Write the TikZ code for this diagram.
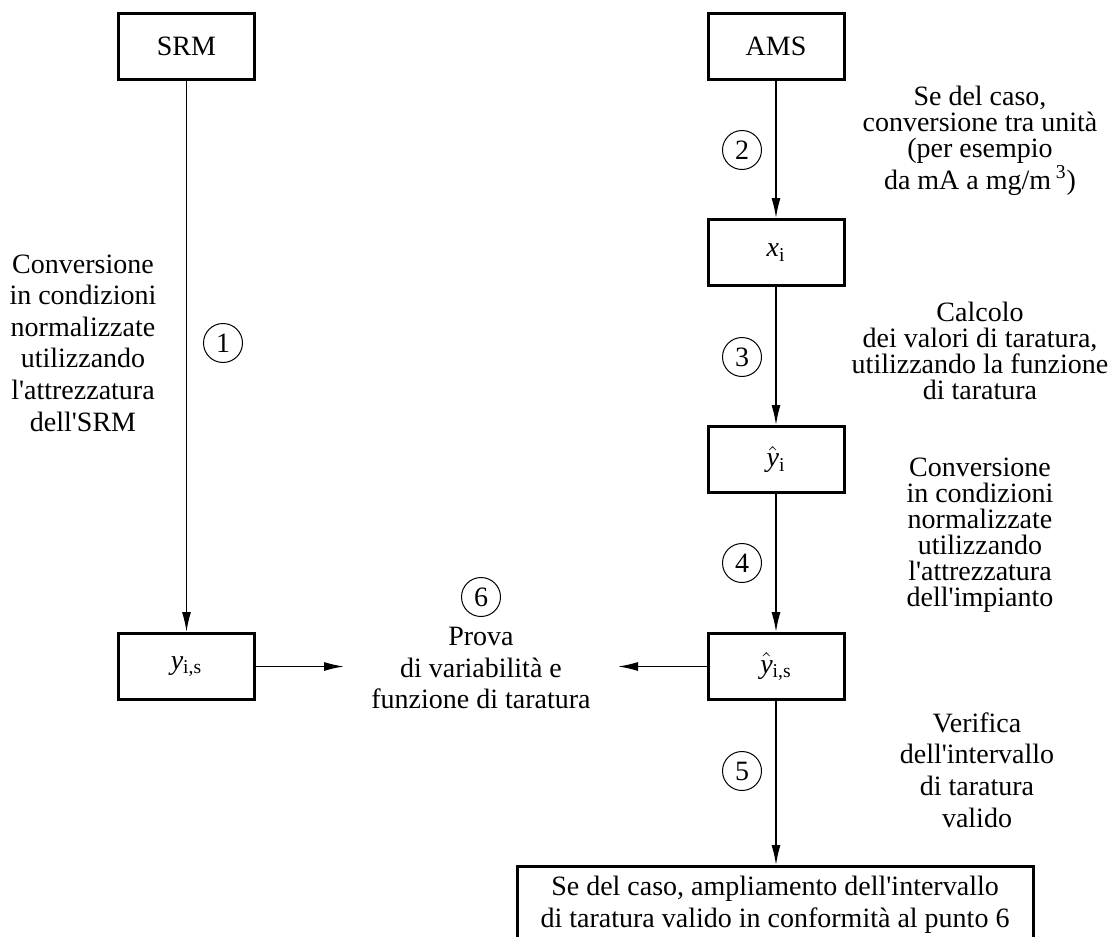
\documentclass[tikz,border=0pt]{standalone}
\usepackage{fontspec}
\setmainfont{Liberation Serif}
\usetikzlibrary{arrows.meta,positioning}
\newcommand{\apo}{\textquotesingle}

\begin{document}
\begin{tikzpicture}[x=0.5pt,y=-0.5pt,
    every node/.style={font=\fontsize{14}{15.8}\selectfont},
    box/.style={draw,line width=1.5pt,minimum width=68pt,minimum height=33pt,inner sep=0pt},
    num/.style={draw,circle,line width=0.5pt,minimum size=19.5pt,inner sep=0pt},
    note/.style={align=center,inner sep=0pt},
    tight/.style={note,font=\fontsize{14}{13}\selectfont},
    flow/.style={line width=0.7pt,-{Latex[length=10pt,width=4.5pt]}}]
  \useasboundingbox (0,0) rectangle (1109,937);
  \clip (0,0) rectangle (1109,937);

  \node[box] (srm) at (186.5,46) {SRM};
  \node[box] (ams) at (776,46) {AMS};
  \node[box] (xi) at (776,252.5) {\textit{x}\textsubscript{i}};
  \node[box] (yi) at (776,459.5) {$\hat{\textit{y}}$\textsubscript{i}};
  \node[box] (yis) at (776,666.5) {$\hat{\textit{y}}$\textsubscript{i,s}};
  \node[box] (ys) at (186.5,666.5) {\textit{y}\textsubscript{i,s}};
  \node[box,anchor=north,minimum width=258pt,minimum height=0pt,inner xsep=0pt,inner ysep=5pt,align=center] (ext) at (775,865)
    {Se del caso, ampliamento dell\apo intervallo\\di taratura valido in conformità al punto 6};

  \coordinate (tl) at (344,666.5);
  \coordinate (tr) at (618,666.5);

  \draw[flow] (srm) -- (ys);
  \draw[flow] (ams) -- (xi);
  \draw[flow] (xi) -- (yi);
  \draw[flow] (yi) -- (yis);
  \draw[flow] (yis.south) -- (yis.south |- ext.north);
  \draw[flow] (ys) -- (tl);
  \draw[flow] (yis) -- (tr);

  \node[num] (n1) at (223,343) {1};
  \node[num] (n2) at (742,150) {2};
  \node[num] (n3) at (742,357) {3};
  \node[num] (n4) at (742,563) {4};
  \node[num] (n5) at (742,771) {5};
  \node[num] (n6) at (481,597) {6};

  \node[note] (srmconv) at (83,343)
    {Conversione\\in condizioni\\normalizzate\\utilizzando\\l\apo attrezzatura\\dell\apo SRM};
  \node[tight] (units) at (980,141)
    {Se del caso,\\conversione tra unità\\(per esempio\\da mA a mg/m\,\textsuperscript{3})};
  \node[tight] (calc) at (980,351)
    {Calcolo\\dei valori di taratura,\\utilizzando la funzione\\di taratura};
  \node[tight] (plantconv) at (980,535)
    {Conversione\\in condizioni\\normalizzate\\utilizzando\\l\apo attrezzatura\\dell\apo impianto};
  \node[note] (check) at (977,770)
    {Verifica\\dell\apo intervallo\\di taratura\\valido};
  \node[note] (test) at (481,668)
    {Prova\\di variabilità e\\funzione di taratura};
\end{tikzpicture}
\end{document}
